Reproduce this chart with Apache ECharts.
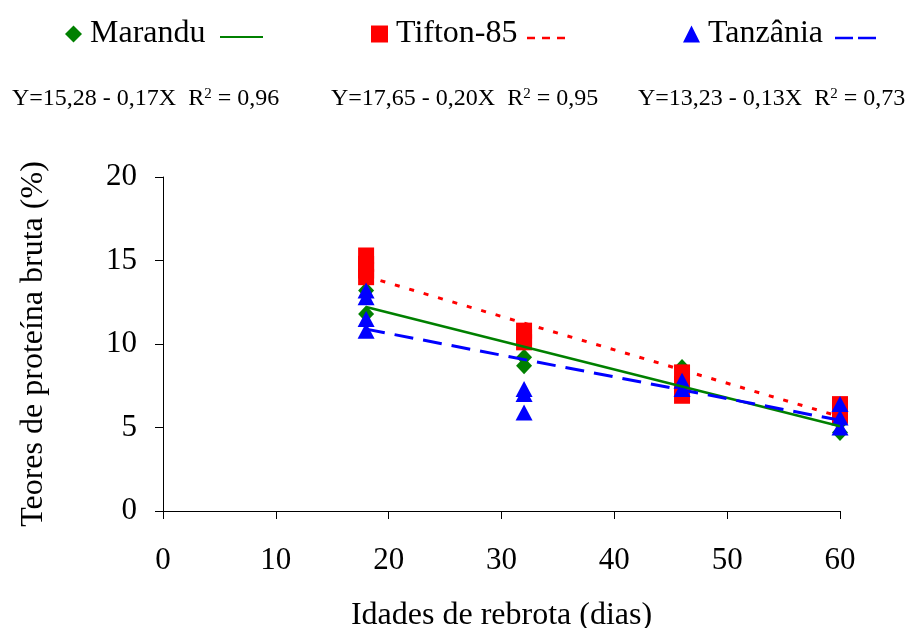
<!DOCTYPE html>
<html>
<head>
<meta charset="utf-8">
<script src="https://cdn.jsdelivr.net/npm/echarts@6/dist/echarts.min.js"></script>
<style>html,body{margin:0;padding:0;background:#fff}#c{width:907px;height:628px}</style>
</head>
<body>
<div id="c"></div>
<script>
// ---- data ----
var seriesNames = ['Marandu', 'Tifton-85', 'Tanzânia'];
var xTicks = [0, 10, 20, 30, 40, 50, 60];
var yTicks = [0, 5, 10, 15, 20];
var marandu = [[18, 13.2], [18, 11.8], [32, 9.2], [32, 8.7], [46, 8.6], [46, 7.6], [60, 5.3], [60, 4.7]];
var tifton = [[18, 15.3], [18, 14.8], [18, 14.4], [18, 14.0], [32, 10.8], [32, 10.4], [32, 10.1], [46, 8.3], [46, 7.6], [46, 6.9], [60, 6.4], [60, 6.0], [60, 5.7]];
var tanzania = [[18, 13.2], [18, 12.8], [18, 11.5], [18, 10.8], [32, 7.3], [32, 7.0], [32, 5.9], [46, 7.8], [46, 7.3], [60, 6.4], [60, 5.6], [60, 5.0]];
var marLine = [[18, 12.22], [60, 5.08]];
var tifLine = [[18, 14.05], [60, 5.65]];
var tanLine = [[18, 10.89], [60, 5.43]];
var equations = ['Y=15,28 - 0,17X  R{s|2} = 0,96', 'Y=17,65 - 0,20X  R{s|2} = 0,95', 'Y=13,23 - 0,13X  R{s|2} = 0,73'];

var FONT = '"Liberation Serif","Times New Roman",serif';
var GREEN = '#008000', RED = '#FF0000', BLUE = '#0000FF';

var chart = echarts.init(document.getElementById('c'), null, {renderer: 'canvas'});

function legendFor(name, icon, left) {
  return {
    data: [name], left: left, top: 18, padding: 0,
    icon: icon, itemWidth: 17, itemHeight: 17,
    textStyle: {fontFamily: FONT, fontSize: 32, color: '#000', padding: [0, 0, 0, 3]},
    selectedMode: false
  };
}

var eqLeft = [12, 331, 638];
var graphics = [];
equations.forEach(function (t, i) {
  graphics.push({
    type: 'text', left: eqLeft[i], top: 87, silent: true,
    style: {
      text: t, fill: '#000', font: '24px ' + FONT,
      rich: {s: {fontSize: 15, fontFamily: FONT, fill: '#000', verticalAlign: 'top', lineHeight: 15}}
    }
  });
});
graphics.push({type: 'line', silent: true, shape: {x1: 220, y1: 37, x2: 263, y2: 37}, style: {stroke: GREEN, lineWidth: 2}});
graphics.push({type: 'line', silent: true, shape: {x1: 527, y1: 38, x2: 567, y2: 38}, style: {stroke: RED, lineWidth: 2.5, lineDash: [8, 7]}});
graphics.push({type: 'line', silent: true, shape: {x1: 835, y1: 38, x2: 876, y2: 38}, style: {stroke: BLUE, lineWidth: 2.5, lineDash: [18, 5]}});

var axisText = {fontFamily: FONT, fontSize: 31, color: '#000'};

var option = {
  animation: false,
  backgroundColor: '#fff',
  grid: {left: 163, right: 67, top: 177, bottom: 117, containLabel: false, outerBoundsMode: 'none'},
  legend: [
    legendFor(seriesNames[0], 'diamond', 65),
    legendFor(seriesNames[1], 'rect', 371),
    legendFor(seriesNames[2], 'triangle', 683)
  ],
  graphic: graphics,
  xAxis: {
    type: 'value', min: xTicks[0], max: xTicks[xTicks.length - 1], interval: 10,
    name: 'Idades de rebrota (dias)', nameLocation: 'middle', nameGap: 89,
    nameTextStyle: {fontFamily: FONT, fontSize: 32, color: '#000'},
    axisLine: {show: true, onZero: false, lineStyle: {color: '#000', width: 1}},
    axisTick: {show: true, inside: false, length: 8, lineStyle: {color: '#000'}},
    axisLabel: Object.assign({margin: 34}, axisText),
    splitLine: {show: false}
  },
  yAxis: {
    type: 'value', min: yTicks[0], max: yTicks[yTicks.length - 1], interval: 5,
    name: 'Teores de proteína bruta (%)', nameLocation: 'middle', nameGap: 113, nameRotate: 90,
    nameTextStyle: {fontFamily: FONT, fontSize: 32, color: '#000'},
    axisLine: {show: true, onZero: false, lineStyle: {color: '#000', width: 1}},
    axisTick: {show: true, inside: false, length: 8, lineStyle: {color: '#000'}},
    axisLabel: Object.assign({margin: 26}, axisText),
    splitLine: {show: false}
  },
  series: [
    {name: seriesNames[0], type: 'scatter', data: marandu, symbol: 'diamond', symbolSize: [16, 17], itemStyle: {color: GREEN, opacity: 1}, z: 2},
    {name: seriesNames[1], type: 'scatter', data: tifton, symbol: 'rect', symbolSize: [16, 16], itemStyle: {color: RED, opacity: 1}, z: 2},
    {name: seriesNames[2], type: 'scatter', data: tanzania, symbol: 'triangle', symbolSize: [17, 16], itemStyle: {color: BLUE, opacity: 1}, z: 2},
    {name: 'Marandu ajuste', type: 'line', data: marLine, showSymbol: false, symbol: 'none', lineStyle: {color: GREEN, width: 2.5, type: 'solid'}, z: 4},
    {name: 'Tifton-85 ajuste', type: 'line', data: tifLine, showSymbol: false, symbol: 'none', lineStyle: {color: RED, width: 3, type: [5, 10]}, z: 4},
    {name: 'Tanzânia ajuste', type: 'line', data: tanLine, showSymbol: false, symbol: 'none', lineStyle: {color: BLUE, width: 3, type: [19, 10]}, z: 4}
  ]
};
chart.setOption(option);
</script>
</body>
</html>
